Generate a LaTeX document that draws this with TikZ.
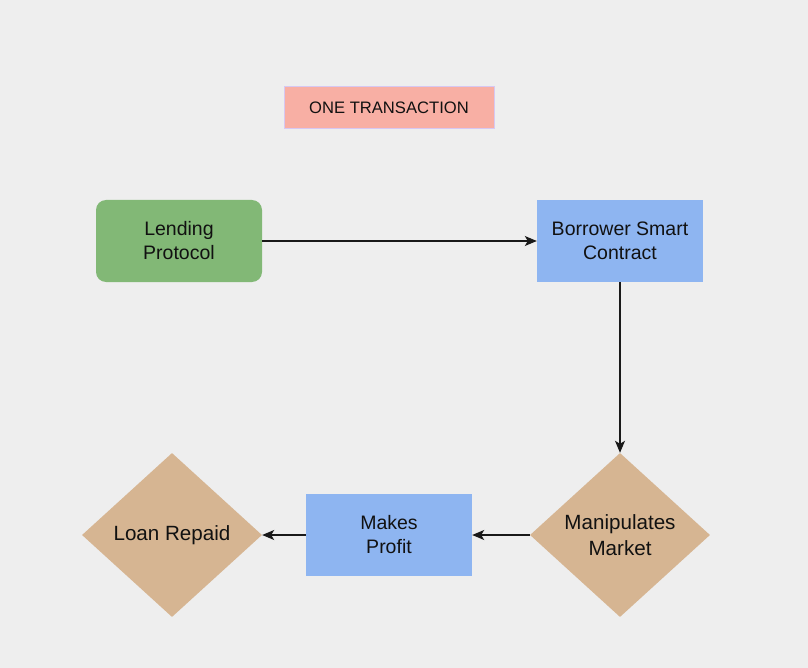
\documentclass[tikz,border=0pt]{standalone}
\usepackage{fontspec}
\setmainfont{Liberation Sans}
\usetikzlibrary{shapes.geometric,arrows.meta}
\definecolor{bg}{HTML}{EEEEEE}
\definecolor{greenbox}{HTML}{82B876}
\definecolor{bluebox}{HTML}{8EB5F1}
\definecolor{tanbox}{HTML}{D6B592}
\definecolor{salmon}{HTML}{F8AFA4}
\definecolor{lavender}{HTML}{D6C8F2}
\definecolor{txt}{HTML}{111111}
\tikzset{
  base/.style={font=\fontsize{19.5}{24}\selectfont, text=txt, align=center, inner sep=0pt},
  greenrect/.style={base, rectangle, rounded corners=10pt, fill=greenbox, minimum width=166pt, minimum height=82pt},
  bluerect/.style={base, rectangle, fill=bluebox, minimum width=166pt, minimum height=82pt},
  tandiamond/.style={base, font=\fontsize{20.6}{25.5}\selectfont, diamond, fill=tanbox, minimum width=180pt, minimum height=164pt},
  titlebox/.style={rectangle, draw=lavender, line width=1pt, fill=salmon, minimum width=210pt, minimum height=42pt, font=\fontsize{16.6}{20}\selectfont, text=txt, inner sep=0pt},
  conn/.style={draw=black!90, line width=1.2pt, -{Stealth[length=12pt,width=10pt,inset=3pt]}}
}
\begin{document}
\begin{tikzpicture}[x=1pt,y=-1pt]
\fill[bg] (0,0) rectangle (808,668);
\useasboundingbox (0,0) rectangle (808,668);
\node[titlebox] (title) at (389,108) {ONE TRANSACTION};
\node[greenrect] (lend) at (179,241) {Lending\\Protocol};
\node[bluerect] (borrow) at (620,241) {Borrower Smart\\Contract};
\node[tandiamond] (manip) at (620,535) {Manipulates\\Market};
\node[bluerect] (profit) at (389,535) {Makes\\Profit};
\node[tandiamond] (repaid) at (172,535) {Loan Repaid};
\draw[conn] (lend) -- (borrow);
\draw[conn] (borrow) -- (manip);
\draw[conn] (manip) -- (profit);
\draw[conn] (profit) -- (repaid);
\end{tikzpicture}
\end{document}
